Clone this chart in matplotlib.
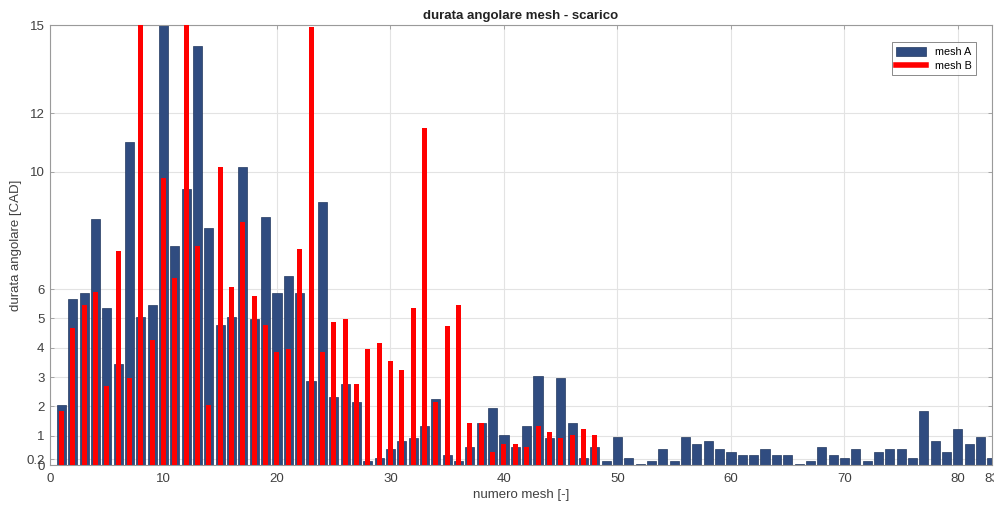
import matplotlib
matplotlib.use("Agg")
import matplotlib.pyplot as plt
from matplotlib.lines import Line2D
from matplotlib.patches import Patch
import numpy as np

plt.rcParams['font.family'] = ['Liberation Sans', 'DejaVu Sans']

mesh_a_idx = list(range(1, 84))
mesh_a = [2.05, 5.66, 5.87, 8.37, 5.35, 3.45, 11.0, 5.06, 5.47, 15.0,
          7.48, 9.4, 14.29, 8.07, 4.76, 5.06, 10.17, 4.97, 8.47, 5.87,
          6.46, 5.87, 2.85, 8.97, 2.33, 2.76, 2.16, 0.14, 0.23, 0.54,
          0.83, 0.93, 1.33, 2.24, 0.33, 0.14, 0.63, 1.42, 1.94, 1.02,
          0.63, 1.33, 3.04, 0.93, 2.95, 1.42, 0.23, 0.63, 0.14, 0.97,
          0.24, 0.05, 0.14, 0.54, 0.14, 0.97, 0.73, 0.83, 0.54, 0.43,
          0.33, 0.33, 0.54, 0.33, 0.33, 0.05, 0.14, 0.63, 0.33, 0.23,
          0.54, 0.14, 0.43, 0.54, 0.54, 0.23, 1.84, 0.83, 0.43, 1.23,
          0.73, 0.95, 0.24]

mesh_b_idx = list(range(1, 49))
mesh_b = [1.85, 4.67, 5.47, 5.89, 2.68, 7.28, 2.96, 15.0, 4.27, 9.79,
          6.38, 15.0, 7.48, 2.05, 10.17, 6.06, 8.28, 5.75, 4.76, 3.85,
          3.95, 7.37, 14.92, 3.85, 4.86, 4.97, 2.76, 3.95, 4.15, 3.55,
          3.25, 5.35, 11.48, 2.16, 4.75, 5.44, 1.42, 1.42, 0.43, 0.73,
          0.73, 0.63, 1.33, 1.13, 0.93, 1.02, 1.22, 1.02]

yticks = [0, 0.2, 1, 2, 3, 4, 5, 6, 10, 12, 15]
yticklabels = ['0', '0.2', '1', '2', '3', '4', '5', '6', '10', '12', '15']
xticks = [0, 10, 20, 30, 40, 50, 60, 70, 80, 83]

blue = '#304C80'
red = '#FF0000'
txt = '#404040'

fig = plt.figure(figsize=(9.94, 5.09), dpi=100)
ax = fig.add_axes([50/994, 44/509, 942/994, 440/509])

ax.bar(mesh_a_idx, mesh_a, width=0.8, color=blue, edgecolor='#22385f', linewidth=0.5, zorder=2)
ax.bar(mesh_b_idx, mesh_b, width=0.44, color=red, linewidth=0, zorder=3)

ax.set_xlim(0, 83)
ax.set_ylim(0, 15)
ax.set_yticks(yticks)
ax.set_yticklabels(yticklabels)
ax.set_xticks(xticks)

ax.grid(True, color='#e3e3e3', linewidth=0.8, zorder=0)
ax.set_axisbelow(True)
for s in ax.spines.values():
    s.set_color('#9a9a9a')
    s.set_linewidth(0.8)
ax.tick_params(direction='in', top=True, right=True, length=3, width=0.6,
               colors='#9a9a9a', labelcolor=txt, labelsize=9.5)
ax.tick_params(axis='x', pad=5.5)
ax.tick_params(axis='y', pad=4)

ax.set_title('durata angolare mesh - scarico', fontsize=9.5, fontweight='bold',
             pad=4, color='#222222')
ax.set_xlabel('numero mesh [-]', fontsize=9.5, color=txt, labelpad=3)
ax.set_ylabel('durata angolare [CAD]', fontsize=9.5, color=txt, labelpad=3)

handles = [Patch(facecolor=blue, edgecolor='#22385f', linewidth=0.5),
           Line2D([0], [0], color=red, linewidth=4)]
leg = ax.legend(handles, ['mesh A', 'mesh B'], loc='upper right',
                bbox_to_anchor=(0.989, 0.973), fontsize=7.8, frameon=True,
                fancybox=False, edgecolor='#555555', handlelength=2.8,
                handleheight=1.0, borderpad=0.4, labelspacing=0.3,
                markerfirst=True)
leg.get_frame().set_linewidth(0.6)

fig.savefig('out.png', dpi=100)
